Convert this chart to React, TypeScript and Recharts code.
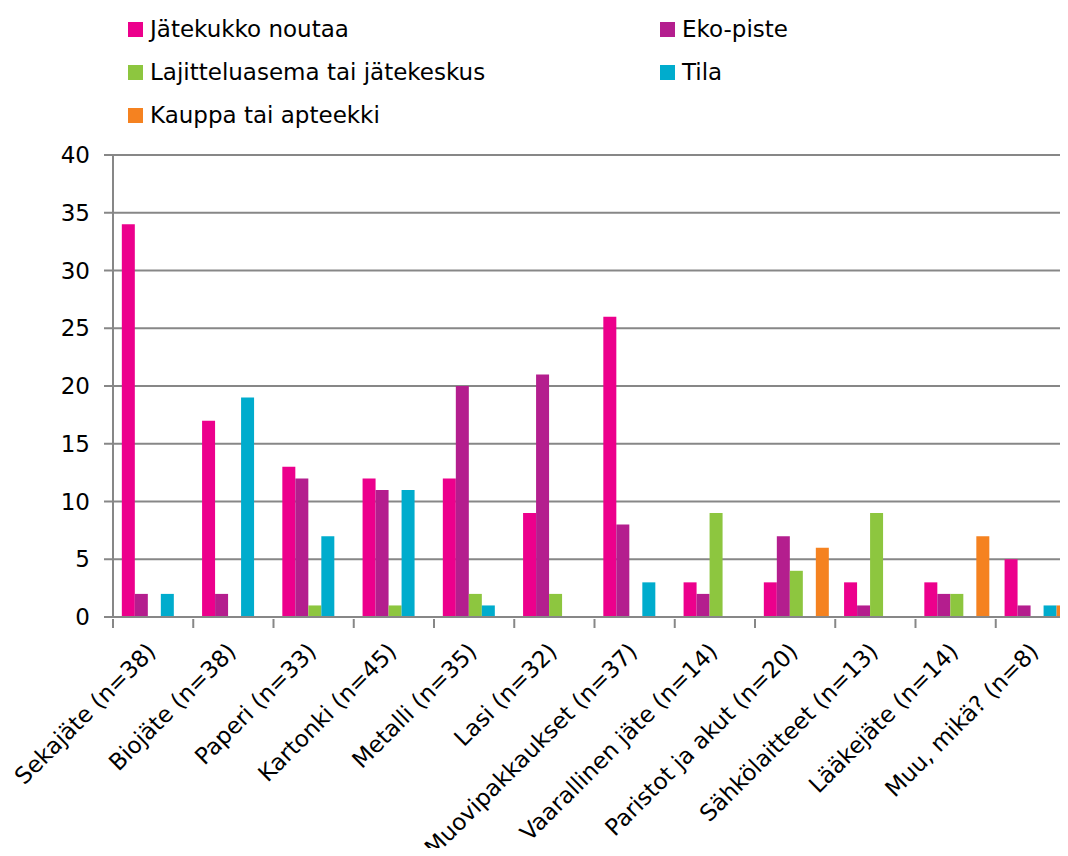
import React from "react";
import { Bar, BarChart, CartesianGrid, XAxis, YAxis } from "recharts";

const categories = [
  "Sekajäte (n=38)",
  "Biojäte (n=38)",
  "Paperi (n=33)",
  "Kartonki (n=45)",
  "Metalli (n=35)",
  "Lasi (n=32)",
  "Muovipakkaukset (n=37)",
  "Vaarallinen jäte (n=14)",
  "Paristot ja akut (n=20)",
  "Sähkölaitteet (n=13)",
  "Lääkejäte (n=14)",
  "Muu, mikä? (n=8)",
];

const jatekukko = [34, 17, 13, 12, 12, 9, 26, 3, 3, 3, 3, 5];
const ekopiste = [2, 2, 12, 11, 20, 21, 8, 2, 7, 1, 2, 1];
const lajittelu = [0, 0, 1, 1, 2, 2, 0, 9, 4, 9, 2, 0];
const tila = [2, 19, 7, 11, 1, 0, 3, 0, 0, 0, 0, 1];
const kauppa = [0, 0, 0, 0, 0, 0, 0, 0, 6, 0, 7, 1];

const yTicks = [0, 5, 10, 15, 20, 25, 30, 35, 40];

const series = [
  { key: "jatekukko", name: "Jätekukko noutaa", color: "#EC008C", values: jatekukko },
  { key: "ekopiste", name: "Eko-piste", color: "#B41E8E", values: ekopiste },
  { key: "lajittelu", name: "Lajitteluasema tai jätekeskus", color: "#8DC63F", values: lajittelu },
  { key: "tila", name: "Tila", color: "#00ACCD", values: tila },
  { key: "kauppa", name: "Kauppa tai apteekki", color: "#F58220", values: kauppa },
];

const data = categories.map((name, i) => {
  const row: Record<string, string | number> = { name };
  series.forEach((s) => (row[s.key] = s.values[i]));
  return row;
});

const FONT = "'DejaVu Sans', Verdana, sans-serif";
const FONT_SIZE = 23;
const CHART_W = 1068;
const CHART_H = 848;
const PLOT_TOP = 147;
const PLOT_H = 462;
const Y_AXIS_W = 105;
const BAND = (CHART_W - Y_AXIS_W) / categories.length;
const GRID = "#878787";

// legend is laid out in two columns, Excel style
const legendPos = [
  { left: 120, top: 8 },
  { left: 652, top: 8 },
  { left: 120, top: 51 },
  { left: 652, top: 51 },
  { left: 120, top: 94 },
];

const CategoryTick = (props: any) => {
  const { x, y, payload, index } = props;
  const left = x - BAND / 2;
  const ax = x + 4;
  const ay = y + 26;
  return (
    <g>
      <line x1={left} y1={y - 8} x2={left} y2={y + 1} stroke={GRID} strokeWidth={2} />
      {index === categories.length - 1 && (
        <line x1={left + BAND} y1={y - 8} x2={left + BAND} y2={y + 1} stroke={GRID} strokeWidth={2} />
      )}
      <text
        x={ax}
        y={ay}
        textAnchor="end"
        fontSize={FONT_SIZE}
        fontFamily={FONT}
        fill="#000"
        transform={`rotate(-45, ${ax}, ${ay})`}
      >
        {payload.value}
      </text>
    </g>
  );
};

export default function App() {
  // the chart runs past the window edges on the right and bottom, so clip it
  return (
    <div style={{ width: 1060, height: CHART_H, marginBottom: -8, overflow: "hidden" }}>
      <div style={{ position: "relative", width: CHART_W, height: CHART_H }}>
        <BarChart
          width={CHART_W}
          height={CHART_H}
          data={data}
          margin={{ top: PLOT_TOP, right: 0, left: 0, bottom: 0 }}
          barCategoryGap="11%"
          barGap={0}
        >
          <CartesianGrid vertical={false} stroke={GRID} strokeWidth={2} />
          <YAxis
            width={Y_AXIS_W}
            domain={[0, 40]}
            ticks={yTicks}
            interval={0}
            tickSize={9}
            tickMargin={14}
            axisLine={{ stroke: GRID, strokeWidth: 2 }}
            tickLine={{ stroke: GRID, strokeWidth: 2 }}
            tick={{ fill: "#000", fontSize: FONT_SIZE, fontFamily: FONT }}
          />
          <XAxis
            dataKey="name"
            height={CHART_H - PLOT_TOP - PLOT_H}
            interval={0}
            axisLine={{ stroke: GRID, strokeWidth: 2 }}
            tickLine={false}
            tickSize={8}
            tick={<CategoryTick />}
          />
          {series.map((s) => (
            <Bar key={s.key} dataKey={s.key} name={s.name} fill={s.color} isAnimationActive={false} />
          ))}
        </BarChart>
        {series.map((s, i) => (
          <div
            key={s.key}
            style={{
              position: "absolute",
              left: legendPos[i].left,
              top: legendPos[i].top,
              display: "flex",
              alignItems: "center",
              fontFamily: FONT,
              fontSize: FONT_SIZE,
              color: "#000",
              whiteSpace: "nowrap",
            }}
          >
            <span style={{ width: 15, height: 15, background: s.color, marginRight: 7, display: "inline-block" }} />
            {s.name}
          </div>
        ))}
      </div>
    </div>
  );
}
